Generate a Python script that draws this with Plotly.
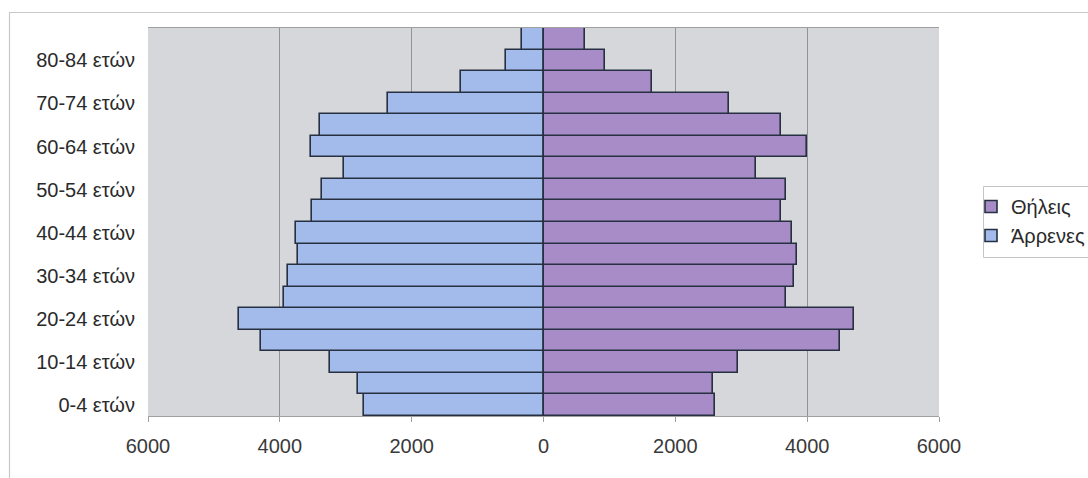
import plotly.graph_objects as go

# Age groups, youngest first
age_groups = [
    "0-4 ετών", "5-9 ετών", "10-14 ετών", "15-19 ετών", "20-24 ετών",
    "25-29 ετών", "30-34 ετών", "35-39 ετών", "40-44 ετών", "45-49 ετών",
    "50-54 ετών", "55-59 ετών", "60-64 ετών", "65-69 ετών", "70-74 ετών",
    "75-79 ετών", "80-84 ετών", "85+ ετών",
]

males = [2727, 2815, 3237, 4288, 4622, 3930, 3880, 3724, 3751, 3518,
         3356, 3021, 3524, 3394, 2365, 1250, 570, 333]
females = [2607, 2570, 2944, 4492, 4715, 3678, 3802, 3851, 3775, 3601,
           3672, 3221, 3992, 3596, 2808, 1646, 929, 634]

# Only every other age group is labelled on the axis
shown_labels = age_groups[0:17:2]

x_ticks = [-6000, -4000, -2000, 0, 2000, 4000, 6000]
x_tick_text = [f"{abs(v)}" for v in x_ticks]

male_color = "#a3bbeb"
female_color = "#a88cc8"
outline = "#263041"
font_family = "Liberation Sans, Arial, sans-serif"

# Plot-area geometry in pixels
W, H = 1088, 478
ML, MR, MT, MB = 148, 149, 28, 62
PW, PH = W - ML - MR, H - MT - MB


def px_x(px):
    return (px - ML) / PW


def px_y(py):
    return 1 - (py - MT) / PH


fig = go.Figure()
fig.add_trace(go.Bar(
    y=age_groups, x=[-v for v in males], orientation="h",
    name="Άρρενες", legendgroup="m", legendrank=2,
    marker=dict(color=male_color, line=dict(color=outline, width=1.6)),
))
fig.add_trace(go.Bar(
    y=age_groups, x=females, orientation="h",
    name="Θήλεις", legendgroup="f", legendrank=1,
    marker=dict(color=female_color, line=dict(color=outline, width=1.6)),
))

# Outer chart frame
fig.add_shape(type="rect", xref="paper", yref="paper",
              x0=px_x(9.5), x1=px_x(1120), y0=px_y(520), y1=px_y(12.5),
              line=dict(color="#c8c8c8", width=1.2), layer="below")
# Legend frame
fig.add_shape(type="rect", xref="paper", yref="paper",
              x0=px_x(983.5), x1=px_x(1110), y0=px_y(257.5), y1=px_y(186.5),
              line=dict(color="#c4c4c4", width=1), fillcolor="white",
              layer="below")

fig.update_layout(
    width=W, height=H,
    margin=dict(l=ML, r=MR, t=MT, b=MB, autoexpand=False),
    paper_bgcolor="white",
    plot_bgcolor="#d5d7db",
    barmode="overlay",
    bargap=0,
    font=dict(family=font_family, size=20, color="#2a2a2a"),
    showlegend=True,
    legend=dict(
        x=px_x(971), y=px_y(187), xanchor="left", yanchor="top",
        bgcolor="rgba(0,0,0,0)", borderwidth=0,
        font=dict(size=20, color="#2a2a2a"),
        tracegroupgap=0, itemwidth=30,
    ),
    xaxis=dict(
        range=[-6000, 6000],
        tickvals=x_ticks, ticktext=x_tick_text,
        showgrid=True, gridcolor="#909397", gridwidth=1,
        zeroline=True, zerolinecolor=outline, zerolinewidth=1.6,
        showline=True, linecolor="#a0a0a0", linewidth=1, mirror=True,
        ticks="outside", ticklen=5, tickcolor="#a0a0a0",
        ticklabelstandoff=7,
        tickfont=dict(size=20, color="#3a3a3a"),
        fixedrange=True,
    ),
    yaxis=dict(
        type="category",
        categoryorder="array", categoryarray=age_groups,
        tickvals=shown_labels, ticktext=shown_labels,
        showgrid=False, zeroline=False, showline=False,
        ticks="", ticklabelstandoff=12,
        tickfont=dict(size=20, color="#2a2a2a"),
        fixedrange=True,
    ),
)

fig.write_html("out.html")
